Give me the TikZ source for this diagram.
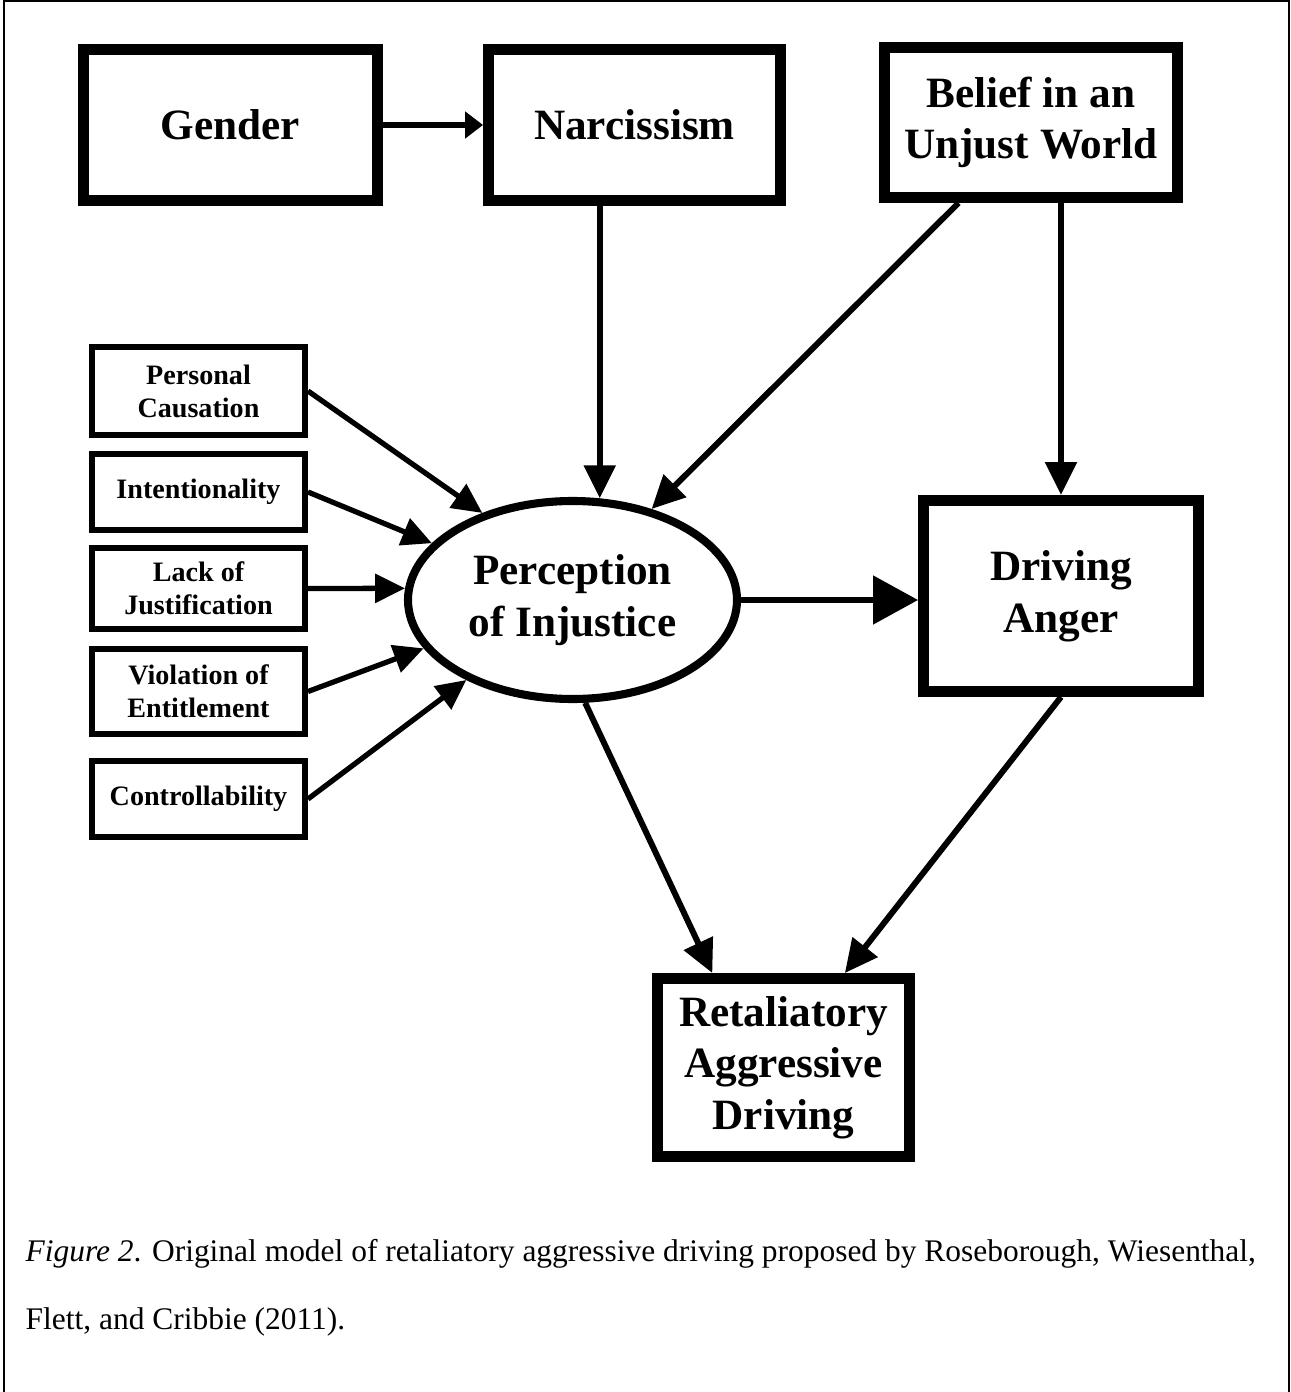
\documentclass[tikz,border=0pt]{standalone}
\usepackage{fontspec}
\setmainfont{Liberation Serif}
\usetikzlibrary{arrows.meta,shapes.geometric}

\begin{document}
\begin{tikzpicture}[
  bigbox/.style={draw,line width=3.1pt,inner sep=0pt,align=center,font=\fontsize{12.3}{14.7}\selectfont\bfseries},
  smallbox/.style={draw,line width=1.7pt,inner sep=0pt,align=center,minimum width=2.13cm,font=\fontsize{8}{9.4}\selectfont\bfseries},
  oval/.style={draw,ellipse,line width=2.3pt,inner sep=0pt,align=center,font=\fontsize{12.3}{14.7}\selectfont\bfseries},
  arr/.style={line width=1.7pt,-{Triangle[length=9.4pt,width=8.8pt]}},
  arrsmall/.style={line width=1.5pt,-{Triangle[length=5.1pt,width=7.4pt]}},
  arrin/.style={line width=1.5pt,-{Triangle[length=8.5pt,width=8pt]}},
  arrbig/.style={line width=1.6pt,-{Triangle[length=12.8pt,width=13.6pt]}},
  captext/.style={anchor=base west,inner sep=0pt,font=\fontsize{8.95}{10}\selectfont}]
      \useasboundingbox (0,0) rectangle (12.9,-13.92);
      \draw[line width=0.6pt] (0.04,-13.92) -- (0.04,-0.01) -- (12.89,-0.01) -- (12.89,-13.92);
      \draw (2.305,-1.25) node[bigbox,minimum width=2.94cm,minimum height=1.51cm] (gender) {Gender};
      \draw (6.345,-1.25) node[bigbox,minimum width=2.92cm,minimum height=1.51cm] (narc) {Narcissism};
      \draw (10.31,-1.225) node[bigbox,minimum width=2.93cm,minimum height=1.50cm] (belief) {Belief in an\\Unjust World};
      \path[arrsmall] (gender) edge (narc);
%%%%%%%%%%%%%%%%%%%%%%%%%%%%%%%%%%%%%%%%%%%%%%%%%%%%%%%%%%%%%%%%%%%%%%%
      \draw (1.985,-3.91) node[smallbox,minimum height=0.88cm] (pc) {Personal\\Causation};
      \draw (1.985,-4.92) node[smallbox,minimum height=0.76cm] (intent) {Intentionality};
      \draw (1.985,-5.885) node[smallbox,minimum height=0.81cm] (lack) {Lack of\\Justification};
      \draw (1.985,-6.915) node[smallbox,minimum height=0.85cm] (viol) {Violation of\\Entitlement};
      \draw (1.985,-7.99) node[smallbox,minimum height=0.76cm] (ctrl) {Controllability};
      \draw (5.725,-6.00) node[oval,minimum width=3.29cm,minimum height=1.98cm] (pinj) {Perception\\of Injustice};
      \draw (10.61,-5.96) node[bigbox,minimum width=2.75cm,minimum height=1.91cm] (anger) {Driving\\Anger};
      \draw (7.835,-10.675) node[bigbox,minimum width=2.52cm,minimum height=1.78cm] (retal) {Retaliatory\\Aggressive\\Driving};
      \path[arrin] (pc.east) edge (pinj.136);
      \path[arrin] (intent.east) edge (pinj.158);
      \path[arrin] (lack.east) edge (pinj.176);
      \path[arrin] (viol.east) edge (pinj.198);
      \path[arrin] (ctrl.east) edge (pinj.217);
      \path[arr] (narc.south -| pinj.75) edge (pinj.75);
      \path[arr] (belief.228) edge (pinj.49);
      \path[arr] (belief.south -| anger.north) edge (anger.north);
      \path[arrbig] (pinj.east) edge (pinj.east -| anger.west);
      \path[arr] (pinj.277) edge (retal.127.5);
      \path[arr] (anger.south) edge (retal.57);
%%%%%%%%%%%%%%%%%%%%%%%%%%%%%%%%%%%%%%%%%%%%%%%%%%%%%%%%%%%%%%%%%%%%%%%
      \draw (0.25,-12.61) node[captext] (cap1) {{\itshape Figure 2}. Original model of retaliatory aggressive driving proposed by Roseborough, Wiesenthal,};
      \draw (0.25,-13.29) node[captext] (cap2) {Flett, and Cribbie (2011).};
\end{tikzpicture}
\end{document}
